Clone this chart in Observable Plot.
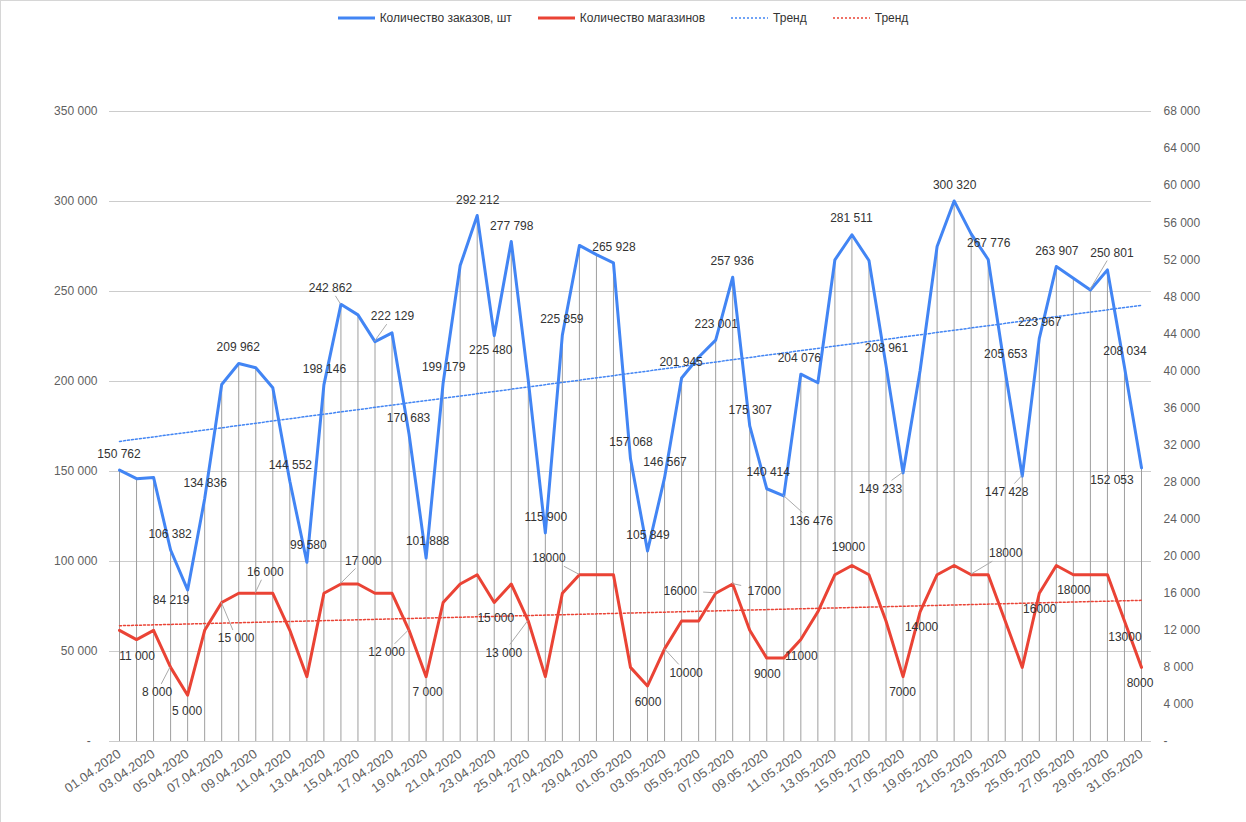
<!DOCTYPE html>
<html>
<head>
<meta charset="utf-8">
<script src="https://cdn.jsdelivr.net/npm/d3@7"></script>
<script src="https://cdn.jsdelivr.net/npm/@observablehq/plot@0.6"></script>
<style>
html, body { margin: 0; padding: 0; background: #fff; overflow: hidden; }
#wrap { position: relative; width: 1246px; height: 822px; font-family: "Liberation Sans", Arial, sans-serif; }
#bl { position: absolute; left: 0; top: 0; width: 1px; height: 822px; background: #d6d6d6; }
#bt { position: absolute; left: 0; top: 0; width: 1246px; height: 1px; background: #d6d6d6; }
#legend { height: 40px; display: flex; justify-content: center; align-items: flex-start; padding-top: 11px; box-sizing: border-box; font-size: 12px; color: #333; }
#legend .item { display: flex; align-items: center; margin: 0 13px; height: 14px; }
#legend svg { margin-right: 5px; }
</style>
</head>
<body>
<div id="wrap">
  <div id="legend"></div>
  <div id="chart"></div>
  <div id="bl"></div><div id="bt"></div>
</div>
<script>
// ---- data ----
const days = ["01.04.2020","02.04.2020","03.04.2020","04.04.2020","05.04.2020","06.04.2020","07.04.2020","08.04.2020","09.04.2020","10.04.2020",
"11.04.2020","12.04.2020","13.04.2020","14.04.2020","15.04.2020","16.04.2020","17.04.2020","18.04.2020","19.04.2020","20.04.2020",
"21.04.2020","22.04.2020","23.04.2020","24.04.2020","25.04.2020","26.04.2020","27.04.2020","28.04.2020","29.04.2020","30.04.2020",
"01.05.2020","02.05.2020","03.05.2020","04.05.2020","05.05.2020","06.05.2020","07.05.2020","08.05.2020","09.05.2020","10.05.2020",
"11.05.2020","12.05.2020","13.05.2020","14.05.2020","15.05.2020","16.05.2020","17.05.2020","18.05.2020","19.05.2020","20.05.2020",
"21.05.2020","22.05.2020","23.05.2020","24.05.2020","25.05.2020","26.05.2020","27.05.2020","28.05.2020","29.05.2020","30.05.2020","31.05.2020"];

const orders = [150762,146000,146700,106382,84219,134836,198300,209962,207600,196500,
144552,99580,198146,242862,237000,222129,227000,170683,101888,199179,
264400,292212,225480,277798,200500,115900,225859,275600,270500,265928,
157068,105849,146567,201945,213500,223001,257936,175307,140414,136476,
204076,199300,267600,281511,267200,208961,149233,206000,275000,300320,
282000,267776,205653,147428,223967,263907,257400,250801,262000,208034,152053];

const stores = [12000,11000,12000,8000,5000,12000,15000,16000,16000,16000,
12000,7000,16000,17000,17000,16000,16000,12000,7000,15000,
17000,18000,15000,17000,13000,7000,16000,18000,18000,18000,
8000,6000,10000,13000,13000,16000,17000,12000,9000,9000,
11000,14000,18000,19000,18000,13000,7000,14000,18000,19000,
18000,18000,13000,8000,16000,19000,18000,18000,18000,13000,8000];

const leftTicks = [0,50000,100000,150000,200000,250000,300000,350000];
const rightTicks = [0,4000,8000,12000,16000,20000,24000,28000,32000,36000,40000,44000,48000,52000,56000,60000,64000,68000];
const seriesNames = ["Количество заказов, шт","Количество магазинов","Тренд","Тренд"];

// label placement: [index, dx, dy, leader]
const orderLabels = [[0,0,-16],[3,0,-16],[4,-16,10],[5,1,-15],[7,0,-16],[10,1,-16],[11,2,-17],[12,1,-16],[13,-10,-16,1],[15,18,-25,1],
[17,0,-16],[18,2,-17],[19,1,-16],[21,1,-15],[22,-3,15],[23,1,-15],[25,1,-16],[26,0,-16],[29,1,-16],[30,1,-16],[31,1,-16],[32,1,-15],
[33,0,-16],[35,1,-16],[36,0,-16],[37,1,-16],[38,2,-16],[39,28,25,1],[40,-1,-16],[43,0,-16],[45,1,-17],[46,-22,16,1],[49,1,-16],
[51,1,-16],[52,1,-17],[53,-15,16,1],[54,1,-16],[55,1,-15],[57,22,-37,1],[59,1,-16],[60,-29,12]];
const storeLabels = [[1,1,17],[3,-13,25,1],[4,0,16],[6,15,36,1],[8,10,-21,1],[13,23,-23,1],[17,-22,22,1],[18,2,16],[22,2,16],
[24,-24,32,1],[27,-30,-16,1],[31,1,16],[32,22,24,1],[35,-35,-2,1],[36,32,7,1],[38,1,16],[40,1,17],[43,-3,-18],[46,0,16],
[47,2,16],[50,35,-21,1],[54,1,16],[56,1,16],[59,1,16],[60,-1,16]];

const BLUE = "#4285F4", RED = "#EA4335";
const K = 350000 / 68000; // right axis -> left axis units
const fmt = d3.formatLocale({decimal: ",", thousands: " ", grouping: [3]}).format(",");
const idx = d3.range(days.length);

// legend
const legend = document.getElementById("legend");
[[BLUE, false],[RED, false],[BLUE, true],[RED, true]].forEach(([c, dotted], k) => {
  const it = document.createElement("div");
  it.className = "item";
  it.innerHTML = `<svg width="37" height="6"><line x1="0" x2="37" y1="3" y2="3" stroke="${c}" stroke-width="${dotted ? 1.5 : 3}" ${dotted ? 'stroke-dasharray="2,2"' : ''}/></svg><span>${seriesNames[k]}</span>`;
  legend.appendChild(it);
});

function labelMark(ann, getY, getText) {
  return (index, scales) => {
    const g = d3.create("svg:g")
      .attr("font-family", "Liberation Sans, Arial, sans-serif")
      .attr("font-size", 12)
      .attr("fill", "#333");
    for (const [i, dx, dy, lead] of ann) {
      const px = scales.x(i), py = scales.y(getY(i));
      const cx = px + dx, cy = py + dy;
      if (lead) {
        const vx = px - cx, vy = py - cy;
        const t = Math.max(Math.abs(vx) / 23, Math.abs(vy) / 8);
        g.append("line")
          .attr("x1", cx + vx / t).attr("y1", cy + vy / t)
          .attr("x2", px).attr("y2", py)
          .attr("stroke", "#aaa").attr("stroke-width", 1);
      }
      g.append("text").attr("x", cx).attr("y", cy).attr("dy", "0.35em")
        .attr("text-anchor", "middle").text(getText(i));
    }
    return g.node();
  };
}

const chart = Plot.plot({
  width: 1246,
  height: 782,
  marginLeft: 109,
  marginRight: 95,
  marginTop: 71,
  marginBottom: 81,
  style: {fontFamily: "Liberation Sans, Arial, sans-serif", fontSize: "12px", background: "transparent"},
  x: {type: "linear", domain: [0, days.length - 1], inset: 10},
  y: {domain: [0, 350000]},
  marks: [
    Plot.gridY(leftTicks, {stroke: "#cccccc", strokeOpacity: 1}),
    Plot.axisY({ticks: leftTicks, tickSize: 0, tickPadding: 12, label: null, color: "#5f5f5f",
      tickFormat: d => d === 0 ? "-\u00a0\u00a0" : fmt(d)}),
    Plot.axisY({anchor: "right", ticks: rightTicks.map(v => v * K), tickSize: 0, tickPadding: 12, label: null, color: "#5f5f5f",
      tickFormat: d => { const v = Math.round(d / K); return v === 0 ? "-" : fmt(v); }}),
    Plot.axisX({ticks: d3.range(0, days.length, 2), tickFormat: i => days[i], tickRotate: -35, tickSize: 0, tickPadding: 11,
      label: null, color: "#5f5f5f", fontSize: 13}),
    Plot.ruleX(idx, {x: i => i, y1: 0, y2: i => orders[i], stroke: "#9e9e9e", strokeWidth: 1}),
    Plot.linearRegressionY(idx, {x: i => i, y: i => orders[i], stroke: BLUE, strokeWidth: 1.5, strokeDasharray: "2,2", ci: 0}),
    Plot.linearRegressionY(idx, {x: i => i, y: i => stores[i] * K, stroke: RED, strokeWidth: 1.5, strokeDasharray: "2,2", ci: 0}),
    Plot.lineY(idx, {x: i => i, y: i => stores[i] * K, stroke: RED, strokeWidth: 3}),
    Plot.lineY(idx, {x: i => i, y: i => orders[i], stroke: BLUE, strokeWidth: 3}),
    labelMark(orderLabels, i => orders[i], i => fmt(orders[i])),
    labelMark(storeLabels, i => stores[i] * K, i => i <= 24 ? fmt(stores[i]) : String(stores[i]))
  ]
});
document.getElementById("chart").appendChild(chart);
</script>
</body>
</html>
